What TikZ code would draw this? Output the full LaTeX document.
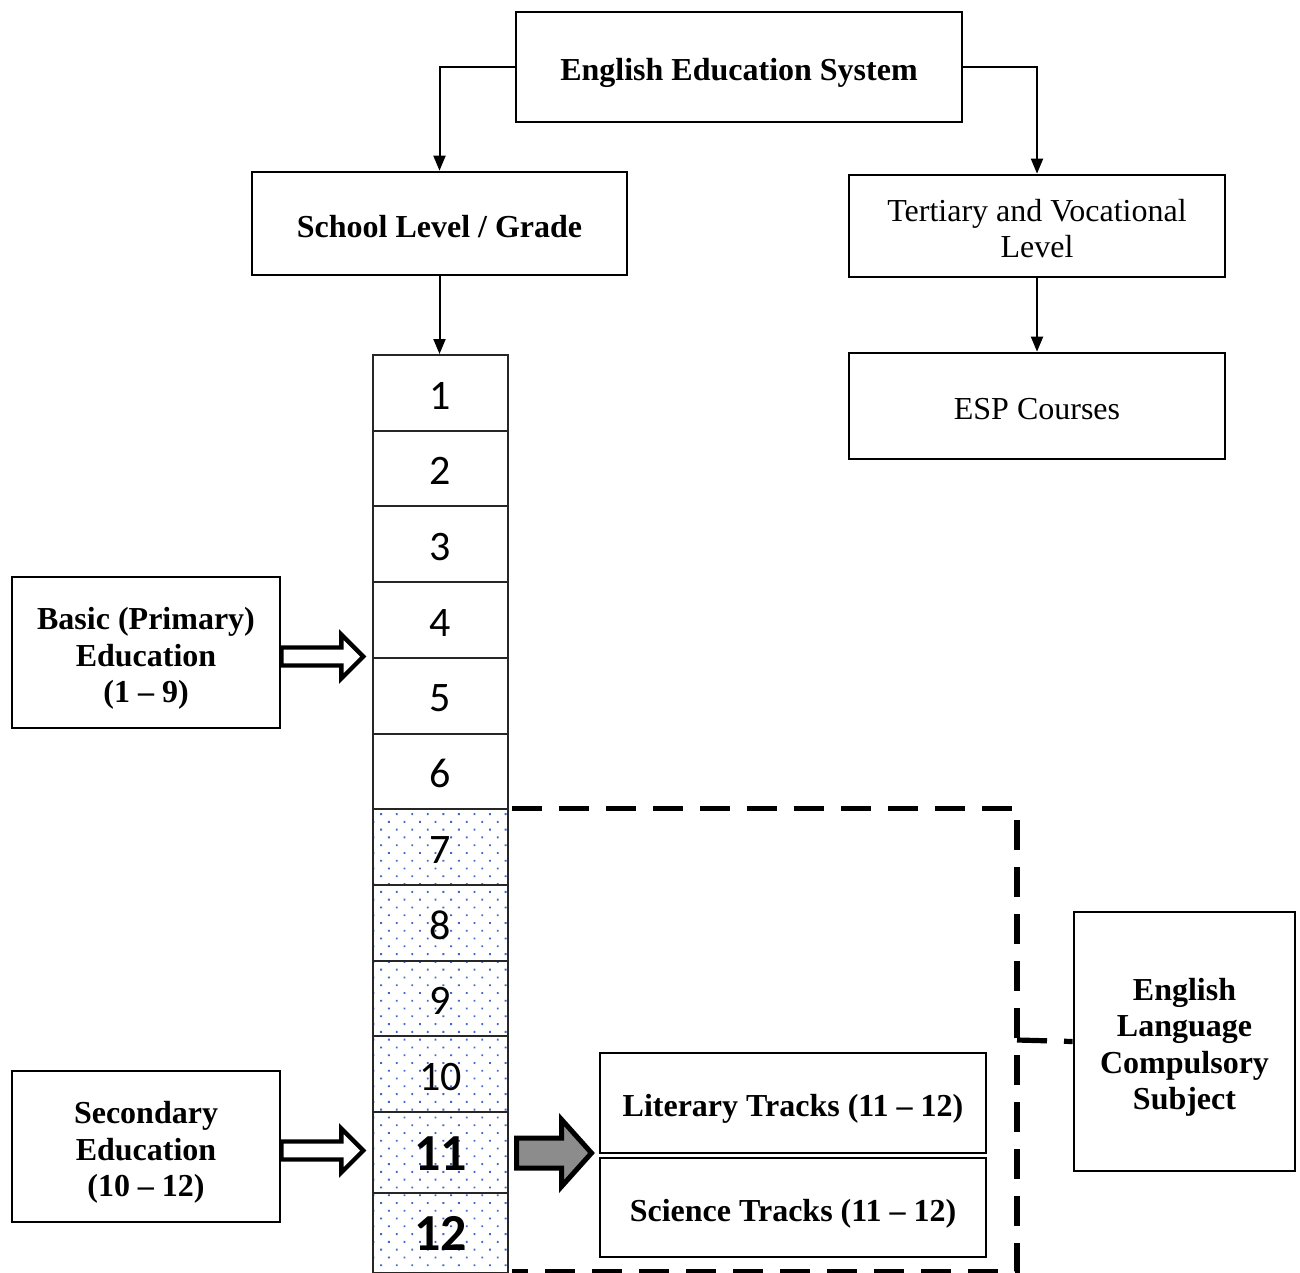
\documentclass[tikz,border=0pt]{standalone}
\usepackage{fontspec}
\setmainfont{Liberation Serif}
\newfontfamily\cellfont{Carlito}
\usetikzlibrary{arrows.meta,patterns.meta}
\definecolor{dotblue}{RGB}{60,105,205}
\newcommand\tstr{\rule{0pt}{18pt}}
\newcommand\bstr{\rule[-4.5pt]{0pt}{0pt}}

\begin{document}
\begin{tikzpicture}[x=0.5pt,y=-0.5pt,
        box/.style={draw,line width=1.35pt,align=center,inner sep=0pt,
            font=\fontsize{16}{18.3}\selectfont},
        boldbox/.style={box,font=\fontsize{16}{18.3}\selectfont\bfseries},
        cell/.style={draw=black!85,line width=1pt,minimum width=67.5pt,inner sep=0pt,
            minimum height=37.85pt,text height=16.3pt,text depth=0pt,
            font=\cellfont\fontsize{21}{21}\selectfont},
        dotted cell/.style={cell,pattern={Dots[radius=0.65pt,distance=5.5pt,angle=45]},
            pattern color=dotblue},
        link/.style={line width=1pt,-{Triangle[length=7.5pt,width=6pt]}},
        fat/.style={line width=2.2pt,line join=miter},
        bracket/.style={line width=2.6pt,dash pattern=on 15pt off 8.5pt}]
        \useasboundingbox (0,0) rectangle (1300,1273);

        \node[boldbox,minimum width=223pt,minimum height=55pt] (sys) at (739,67) {\tstr English Education System\bstr};
        \node[boldbox,minimum width=187.5pt,minimum height=51.5pt] (school) at (439.5,223.5) {\tstr School Level / Grade\bstr};
        \node[box,minimum width=188pt,minimum height=51pt] (tert) at (1037,226) {\tstr Tertiary and Vocational\\Level\bstr};
        \node[box,minimum width=188pt,minimum height=53pt] (esp) at (1037,406) {\tstr ESP Courses\bstr};

        \node[boldbox,minimum width=134pt,minimum height=75.5pt] (basic) at (146,652.5) {\tstr Basic (Primary)\\Education\\(1 – 9)\bstr};
        \node[boldbox,minimum width=134pt,minimum height=75.5pt] (second) at (146,1146.5) {\tstr Secondary\\Education\\(10 – 12)\bstr};
        \node[boldbox,minimum width=193pt,minimum height=50pt] (lit) at (793,1103) {\tstr Literary Tracks (11 – 12)\bstr};
        \node[boldbox,minimum width=193pt,minimum height=49.5pt] (sci) at (793,1207.5) {\tstr Science Tracks (11 – 12)\bstr};
        \node[boldbox,minimum width=110.5pt,minimum height=129.5pt] (eng) at (1184.5,1041.5) {\tstr English\\Language\\Compulsory\\Subject\bstr};

        \foreach \n in {1,...,6} {
            \node[cell] (g\n) at (440.5,{355+75.7*(\n-0.5)}) {\n};
        }
        \foreach \n in {7,...,10} {
            \node[dotted cell] (g\n) at (440.5,{355+75.7*(\n-0.5)}) {\n};
        }
        \node[dotted cell,minimum height=40.25pt,text height=17.6pt,text depth=0pt,
            font=\cellfont\bfseries\fontsize{26}{26}\selectfont] (g11) at (440.5,1152.5) {11};
        \node[dotted cell,minimum height=40.25pt,text height=17.6pt,text depth=0pt,
            font=\cellfont\bfseries\fontsize{26}{26}\selectfont] (g12) at (440.5,1233) {12};

        \draw[link] (sys.west) -| (school.north);
        \draw[link] (sys.east) -| (tert.north);
        \draw[link] (tert.south) -- (esp.north);
        \draw[link] (school.south) -- (school.south |- g1.north);

        \foreach \src in {basic,second} {
            \draw[fat,fill=white] (\src.east) ++(0,4) ++(0,-9) -- ++(60,0) -- ++(0,-13)
                -- ++(22,22) -- ++(-22,22) -- ++(0,-13) -- ++(-60,0) -- cycle;
        }
        \draw[line width=2.5pt,line join=miter,fill=black!45] (g11.east) ++(7.5,0.5) ++(0,-15)
            -- ++(45,0) -- ++(0,-18.5) -- ++(30,33.5) -- ++(-30,33.5) -- ++(0,-18.5) -- ++(-45,0) -- cycle;

        \coordinate (bk) at (1017,1040);
        \draw[bracket] ([xshift=1.5pt]g7.north east) -| (bk) |- ([xshift=1.5pt,yshift=1.5pt]g12.south east);
        \draw[bracket] (bk) -- (eng.west);
\end{tikzpicture}
\end{document}
